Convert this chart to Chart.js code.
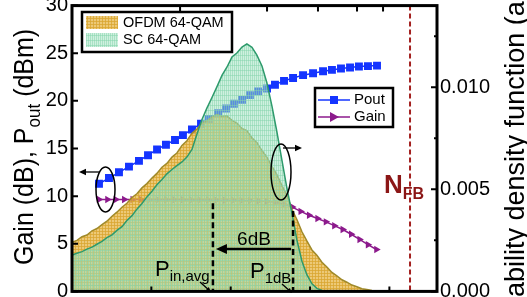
<!DOCTYPE html>
<html>
<head>
<meta charset="utf-8">
<script src="https://cdn.jsdelivr.net/npm/chart.js@4.4.0/dist/chart.umd.min.js"></script>
<style>
  html, body { margin: 0; padding: 0; background: #fff; }
  #c { display: block; }
</style>
</head>
<body>
<canvas id="c" width="527" height="297"></canvas>
<script>
// ---- data ----
// input power axis (dBm), Pout / Gain sweep
const poutX = [-23.30, -22.67, -22.04, -21.41, -20.78, -20.21, -19.64, -19.08, -18.51, -18.01, -17.44, -16.87, -16.37, -15.80, -15.30, -14.80, -14.29, -13.79, -13.28, -12.71, -12.21, -11.64, -11.07, -10.44, -9.81, -9.18, -8.62, -8.05, -7.48, -6.92, -6.35, -5.78];
const pout = [11.3, 11.9, 12.5, 13.1, 13.7, 14.3, 14.9, 15.4, 15.9, 16.4, 17.0, 17.6, 18.1, 18.7, 19.2, 19.7, 20.1, 20.6, 21.0, 21.3, 21.7, 22.1, 22.4, 22.7, 22.9, 23.1, 23.25, 23.4, 23.5, 23.6, 23.65, 23.7];

const gainX = [-23.30, -22.77, -22.24, -21.71, -21.18, -20.65, -20.12, -19.59, -19.06, -18.54, -18.01, -17.48, -16.95, -16.42, -15.89, -15.36, -14.83, -14.30, -13.77, -13.24, -12.71, -12.18, -11.65, -11.12, -10.59, -10.06, -9.53, -9.00, -8.47, -7.94, -7.41, -6.88, -6.35, -5.82];
const gain = [9.65, 9.65, 9.65, 9.65, 9.64, 9.64, 9.63, 9.63, 9.62, 9.62, 9.61, 9.6, 9.6, 9.59, 9.58, 9.57, 9.56, 9.55, 9.53, 9.5, 9.45, 9.35, 9.15, 8.85, 8.4, 8.0, 7.65, 7.3, 6.9, 6.5, 6.0, 5.45, 4.9, 4.4];

// signal power distributions (x10^-3, right axis)
const pdfX = [-25.00, -24.69, -24.37, -24.06, -23.74, -23.43, -23.11, -22.80, -22.48, -22.17, -21.85, -21.54, -21.22, -20.91, -20.59, -20.28, -19.96, -19.65, -19.33, -19.02, -18.70, -18.39, -18.07, -17.76, -17.44, -17.13, -16.81, -16.50, -16.18, -15.87, -15.55, -15.24, -14.92, -14.61, -14.29, -13.98, -13.66, -13.35, -13.03, -12.72, -12.40, -12.09, -11.77, -11.46, -11.14, -10.83, -10.51, -10.20, -9.88, -9.57, -9.25, -8.94, -8.62, -8.31, -7.99, -7.68, -7.36, -7.05, -6.73, -6.42, -6.10, -5.79, -5.47, -5.16];
const ofdmPdf = [2.40, 2.50, 2.68, 2.76, 2.97, 3.08, 3.27, 3.44, 3.68, 3.88, 4.12, 4.32, 4.60, 4.78, 5.07, 5.28, 5.55, 5.78, 6.08, 6.27, 6.58, 6.78, 7.15, 7.38, 7.75, 7.95, 8.25, 8.36, 8.55, 8.66, 8.58, 8.60, 8.38, 8.25, 7.98, 7.88, 7.52, 7.30, 6.90, 6.58, 6.12, 5.72, 5.18, 4.72, 4.02, 3.52, 2.92, 2.47, 2.03, 1.77, 1.43, 1.20, 0.93, 0.76, 0.57, 0.45, 0.31, 0.23, 0.13, 0.09, 0.05, 0.02, 0.01, 0.00];
const scPdf = [1.78, 1.87, 1.95, 2.07, 2.17, 2.31, 2.45, 2.63, 2.77, 2.99, 3.17, 3.47, 3.71, 4.03, 4.31, 4.63, 4.91, 5.22, 5.48, 5.76, 5.97, 6.16, 6.34, 6.58, 6.95, 7.70, 8.42, 8.98, 9.50, 10.02, 10.58, 10.98, 11.48, 11.68, 11.97, 12.12, 11.96, 11.57, 11.04, 10.22, 9.08, 7.82, 6.42, 5.07, 3.83, 2.52, 1.48, 0.82, 0.37, 0.15, 0.05, 0.01, 0, 0, 0, 0, 0, 0, 0, 0, 0, 0, 0, 0];

const leftTicks = [0, 5, 10, 15, 20, 25, 30];
const rightTicks = [0, 0.005, 0.010];
const rightMinor = [0.0025, 0.0075, 0.0125];
const bottomTicks = [-20, -15, -10, -5];
const topTicks = [-18.19, -12.71, -9.50, -7.04, -5.40];

// annotation anchors (data units)
const pinAvg = -16.12, pinAvgTop = 9.25;
const p1dB = -11.07, p1dBTop = 8.45;
const nfb = -3.70;

const FONT = "'Liberation Sans', Arial, sans-serif";
const canvas = document.getElementById('c');
const ctx = canvas.getContext('2d');

function pattern(bg, fg, w, h) {
  const p = document.createElement('canvas');
  p.width = w; p.height = h;
  const g = p.getContext('2d');
  g.fillStyle = bg; g.fillRect(0, 0, w, h);
  g.fillStyle = fg; g.fillRect(0, 0, 1, h); g.fillRect(0, 0, w, 1);
  return ctx.createPattern(p, 'repeat');
}
const ofdmFill = pattern('rgba(228,180,66,0.72)', 'rgba(218,166,50,0.78)', 3, 3);
const scFill = pattern('rgba(160,226,192,0.5)', 'rgba(135,212,172,0.52)', 2, 5);

const zip = (xs, ys, k = 1) => xs.map((x, i) => ({ x, y: ys[i] * k }));

function arrow(c, x1, y1, x2, y2, head, w) {
  const a = Math.atan2(y2 - y1, x2 - x1);
  c.save();
  c.strokeStyle = '#000'; c.fillStyle = '#000'; c.lineWidth = w; c.setLineDash([]);
  c.beginPath(); c.moveTo(x1, y1);
  c.lineTo(x2 - Math.cos(a) * head * 0.8, y2 - Math.sin(a) * head * 0.8); c.stroke();
  c.beginPath(); c.moveTo(x2, y2);
  c.lineTo(x2 - head * Math.cos(a) + head * 0.45 * Math.sin(a), y2 - head * Math.sin(a) - head * 0.45 * Math.cos(a));
  c.lineTo(x2 - head * Math.cos(a) - head * 0.45 * Math.sin(a), y2 - head * Math.sin(a) + head * 0.45 * Math.cos(a));
  c.closePath(); c.fill();
  c.restore();
}

// text with subscript, horizontal
function subText(c, x, y, main, sub, big, small, bold, color) {
  c.save();
  c.fillStyle = color || '#000';
  c.textBaseline = 'alphabetic'; c.textAlign = 'left';
  c.font = (bold ? 'bold ' : '') + big + 'px ' + FONT;
  c.fillText(main, x, y);
  const w = c.measureText(main).width;
  c.font = (bold ? 'bold ' : '') + small + 'px ' + FONT;
  c.fillText(sub, x + w, y + small * 0.35);
  c.restore();
}

// rotated title made of pieces [text, size, dy]
function vTitle(c, x, y, parts, stretch) {
  c.save();
  c.translate(x, y);
  c.rotate(-Math.PI / 2);
  c.scale(1, stretch);
  c.fillStyle = '#000'; c.textBaseline = 'alphabetic'; c.textAlign = 'left';
  let pos = 0;
  parts.forEach(([t, size, dy]) => {
    c.font = size + 'px ' + FONT;
    c.fillText(t, pos, dy);
    pos += c.measureText(t).width;
  });
  c.restore();
}

const decor = {
  id: 'decor',
  afterDatasetsDraw(chart) {
    const c = chart.ctx, a = chart.chartArea;
    const xs = chart.scales.x, yl = chart.scales.y, yr = chart.scales.y2;
    c.save();

    // N_FB line
    const xn = xs.getPixelForValue(nfb);
    c.strokeStyle = '#a3201f'; c.lineWidth = 2; c.setLineDash([5, 3]);
    c.beginPath(); c.moveTo(xn, a.top); c.lineTo(xn, a.bottom); c.stroke();

    // Pin,avg and P1dB markers
    c.strokeStyle = '#000'; c.lineWidth = 2.5; c.setLineDash([6, 3.5]);
    const xa = xs.getPixelForValue(pinAvg), xb = xs.getPixelForValue(p1dB);
    c.beginPath(); c.moveTo(xa, yl.getPixelForValue(pinAvgTop)); c.lineTo(xa, a.bottom); c.stroke();
    c.beginPath(); c.moveTo(xb, yl.getPixelForValue(p1dBTop)); c.lineTo(xb, a.bottom); c.stroke();
    c.setLineDash([]);

    // 6dB back-off arrow
    arrow(c, xb - 2, 249, xa + 3, 249, 11, 2.5);
    c.fillStyle = '#000'; c.font = '19px ' + FONT; c.textAlign = 'center'; c.textBaseline = 'alphabetic';
    c.fillText('6dB', (xa + xb) / 2 + 1, 245);

    subText(c, 155, 276, 'P', 'in,avg', 22, 15);
    subText(c, 250, 278, 'P', '1dB', 22, 15);
    arrow(c, 200, 282, 211, 292, 5, 1.3);
    arrow(c, 282, 284, 292, 293, 5, 1.3);
    subText(c, 384, 193, 'N', 'FB', 26, 16, true, '#8b1616');

    // ellipses with axis arrows
    c.strokeStyle = '#000'; c.lineWidth = 1.5;
    c.beginPath(); c.ellipse(105.5, 189.5, 9.5, 22.5, 0, 0, Math.PI * 2); c.stroke();
    arrow(c, 100, 172, 79, 172, 7, 1.3);
    c.beginPath(); c.ellipse(281, 172, 10, 28, 0, 0, Math.PI * 2); c.stroke();
    arrow(c, 283, 148, 302, 148, 7, 1.3);

    // legend boxes
    const ds = chart.data.datasets;
    c.lineWidth = 2.5; c.strokeStyle = '#000';
    c.fillStyle = '#fff'; c.fillRect(82, 12, 150, 40); c.strokeRect(82, 12, 150, 40);
    c.fillStyle = ds[0].backgroundColor; c.fillRect(86, 16, 32, 13);
    c.fillStyle = ds[1].backgroundColor; c.fillRect(86, 33, 32, 14);
    c.fillStyle = '#000'; c.font = '14.5px ' + FONT; c.textAlign = 'left'; c.textBaseline = 'middle';
    c.fillText(ds[0].label, 123, 23); c.fillText(ds[1].label, 123, 40);

    c.fillStyle = '#fff'; c.fillRect(315, 88, 78, 39); c.strokeRect(315, 88, 78, 39);
    c.lineWidth = 1.5;
    c.strokeStyle = ds[2].borderColor; c.beginPath(); c.moveTo(318, 100); c.lineTo(350, 100); c.stroke();
    c.fillStyle = ds[2].borderColor; c.fillRect(330, 96, 8, 8);
    c.strokeStyle = ds[3].borderColor; c.beginPath(); c.moveTo(318, 117); c.lineTo(350, 117); c.stroke();
    c.fillStyle = ds[3].borderColor; c.beginPath(); c.moveTo(339, 117); c.lineTo(330, 112); c.lineTo(330, 122); c.closePath(); c.fill();
    c.fillStyle = '#000'; c.font = '15px ' + FONT; c.textBaseline = 'middle';
    c.fillText(ds[2].label, 354, 100); c.fillText(ds[3].label, 354, 117);

    // inward ticks
    c.strokeStyle = '#000'; c.lineWidth = 2;
    c.beginPath();
    leftTicks.forEach(v => { const y = yl.getPixelForValue(v); c.moveTo(a.left, y); c.lineTo(a.left + 6, y); });
    rightTicks.forEach(v => { const y = yr.getPixelForValue(v); c.moveTo(a.right, y); c.lineTo(a.right - 6, y); });
    rightMinor.forEach(v => { const y = yr.getPixelForValue(v); c.moveTo(a.right, y); c.lineTo(a.right - 3, y); });
    bottomTicks.forEach(v => { const x = xs.getPixelForValue(v); c.moveTo(x, a.bottom); c.lineTo(x, a.bottom - 5); });
    topTicks.forEach(v => { const x = xs.getPixelForValue(v); c.moveTo(x, a.top); c.lineTo(x, a.top + 6); });
    c.stroke();

    // frame
    c.lineWidth = 3;
    c.strokeRect(a.left, a.top, a.right - a.left, a.bottom - a.top);
    c.restore();
  },
  afterDraw(chart) {
    const c = chart.ctx;
    vTitle(c, 33, 265, [['Gain (dB), P', 25, 0], ['out', 17, 6], [' (dBm)', 25, 0]], 1.12);
    vTitle(c, 524, 354, [['Probability density function (a.u.)', 27, 0]], 1.03);
  }
};

const tickFont = { family: FONT, size: 20 };

new Chart(ctx, {
  type: 'line',
  data: {
    datasets: [
      { label: 'OFDM 64-QAM', data: zip(pdfX, ofdmPdf, 0.001), yAxisID: 'y2', fill: 'origin',
        backgroundColor: ofdmFill, borderColor: '#a08a2a', borderWidth: 1.5, pointRadius: 0, order: 1 },
      { label: 'SC 64-QAM', data: zip(pdfX, scPdf, 0.001), yAxisID: 'y2', fill: 'origin',
        backgroundColor: scFill, borderColor: '#2e9a6c', borderWidth: 1.5, pointRadius: 0, order: 0 },
      { label: 'Pout', data: zip(poutX, pout), yAxisID: 'y', borderColor: '#1434ff', backgroundColor: '#1434ff',
        borderWidth: 1.5, pointStyle: 'rect', pointRadius: 5.6, pointBorderWidth: 0, order: 2 },
      { label: 'Gain', data: zip(gainX, gain), yAxisID: 'y', borderColor: '#8c1a8c', backgroundColor: '#8c1a8c',
        borderWidth: 1.5, pointStyle: 'triangle', rotation: 90, pointRadius: 4.3, pointBorderWidth: 0, order: 2 }
    ]
  },
  options: {
    responsive: false,
    animation: false,
    events: [],
    layout: { padding: { top: 2, left: 0, right: 0, bottom: 0 } },
    plugins: { legend: { display: false }, tooltip: { enabled: false } },
    scales: {
      x: {
        type: 'linear', min: -25, max: -2, position: 'bottom',
        ticks: { display: false }, grid: { display: false, drawTicks: false }, border: { display: false },
        afterFit(s) { s.height = 2; }
      },
      y: {
        min: 0, max: 30, position: 'left',
        ticks: { stepSize: 5, font: tickFont, color: '#000', padding: 4 },
        grid: { display: false, drawTicks: false }, border: { display: false },
        afterFit(s) { s.width = 72; s.paddingTop = 0; s.paddingBottom = 0; }
      },
      y2: {
        min: 0, max: 0.014, position: 'right',
        ticks: { font: tickFont, color: '#000', padding: 3, callback: v => v.toFixed(3) },
        afterBuildTicks(s) { s.ticks = rightTicks.map(v => ({ value: v })); },
        grid: { display: false, drawTicks: false }, border: { display: false },
        afterFit(s) { s.width = 90; s.paddingTop = 0; s.paddingBottom = 0; }
      }
    }
  },
  plugins: [decor]
});
</script>
</body>
</html>
